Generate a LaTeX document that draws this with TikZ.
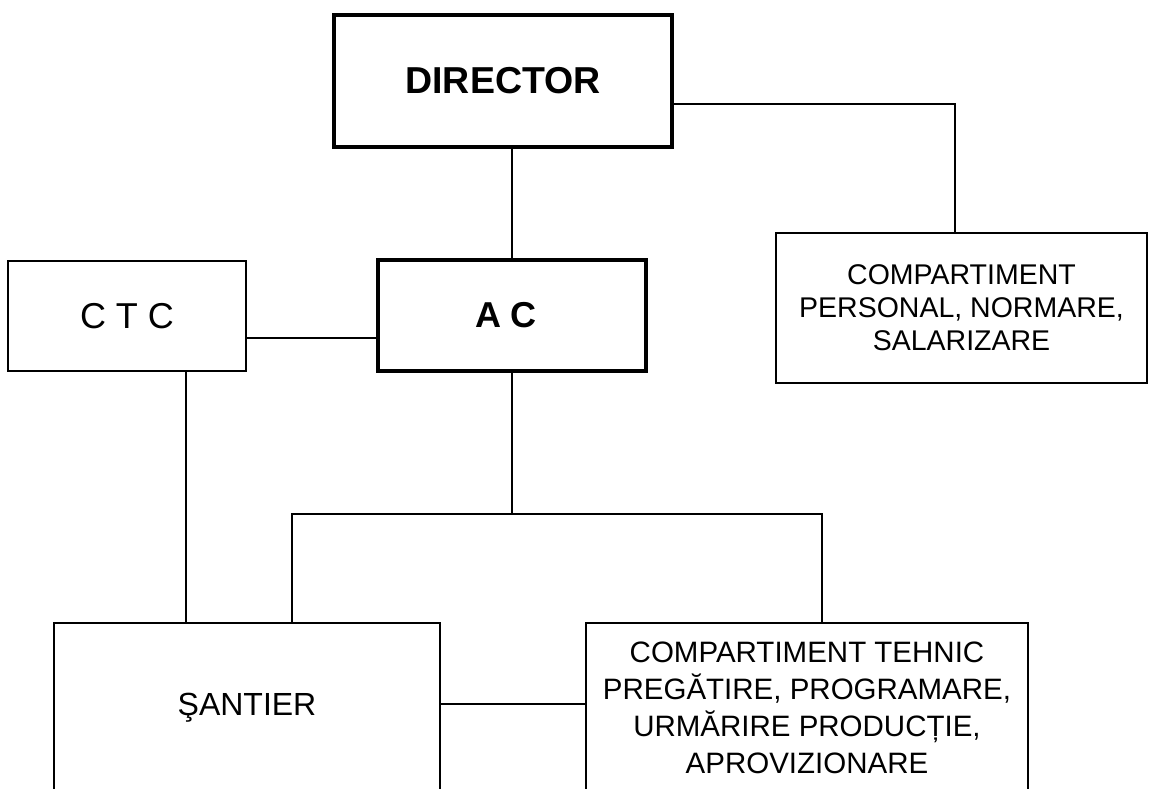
\documentclass[tikz,border=0pt]{standalone}
\usepackage{fontspec}
\setmainfont{Liberation Sans}
\begin{document}
\begin{tikzpicture}[x=1pt,y=-1pt,
  thinbox/.style={draw=black,line width=2.4pt,inner sep=0pt,align=center,fill=white},
  thickbox/.style={draw=black,line width=4.6pt,inner sep=0pt,align=center,fill=white},
  conn/.style={draw=black,line width=2pt}]
\fill[white] (0,0) rectangle (1151,788);
\useasboundingbox (0,0) rectangle (1151,788);
% nodes
\node[thickbox,minimum width=338pt,minimum height=132pt,font=\fontsize{37.5}{40}\selectfont\bfseries] (dir) at (503,81) {DIRECTOR};
\node[thickbox,minimum width=268pt,minimum height=111pt,font=\fontsize{36}{40}\selectfont\bfseries] (ac) at (512,315.5) {A C\hspace*{12pt}};
\node[thinbox,minimum width=238pt,minimum height=110pt,font=\fontsize{36}{40}\selectfont] (ctc) at (127,316) {C T C};
\node[thinbox,minimum width=371pt,minimum height=150pt,font=\fontsize{28.5}{33}\selectfont] (cps) at (961.5,308) {COMPARTIMENT\\PERSONAL, NORMARE,\\SALARIZARE};
\node[thinbox,minimum width=386pt,minimum height=169pt,font=\fontsize{32}{36}\selectfont] (san) at (247,707.5) {ŞANTIER};
\node[thinbox,minimum width=442pt,minimum height=169pt,font=\fontsize{29.5}{37}\selectfont] (teh) at (807,707.5) {COMPARTIMENT TEHNIC\\PREGĂTIRE, PROGRAMARE,\\URMĂRIRE PRODUCȚIE,\\APROVIZIONARE};
% coordinates
\coordinate (busL) at (292,514);
\coordinate (busR) at (822,514);
\coordinate (dirR) at (672,104);
\coordinate (cpsT) at (955,233);
% connectors
\draw[conn] (ac.north) -- (ac.north |- dir.south);
\draw[conn] (dir.east |- dirR) -| (cpsT);
\draw[conn] ([yshift=-22pt]ctc.east) -- ([yshift=-22pt]ctc.east -| ac.west);
\draw[conn] ([xshift=59pt]ctc.south) -- ([xshift=59pt]ctc.south |- san.north);
\draw[conn] (ac.south) -- (ac.south |- busL);
\draw[conn] (san.north -| busL) -- (busL) -- (busR) -- (teh.north -| busR);
\draw[conn] ([yshift=4pt]san.east) -- ([yshift=4pt]san.east -| teh.west);
\end{tikzpicture}
\end{document}
